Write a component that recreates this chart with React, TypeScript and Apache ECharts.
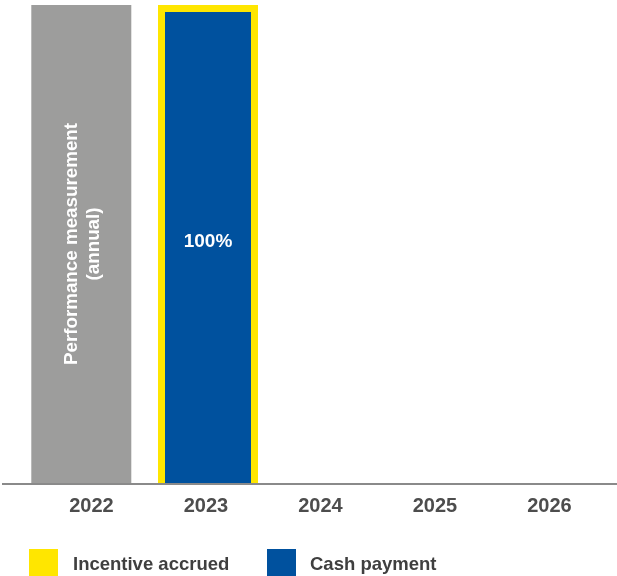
import React, { useEffect, useRef } from "react";
import * as echarts from "echarts";

const years = ["2022", "2023", "2024", "2025", "2026"];
const performanceValues = [100, "-", "-", "-", "-"];
const incentiveValues = ["-", 100, "-", "-", "-"];
const cashValues = ["-", 100, "-", "-", "-"];
const performanceLabel = "Performance measurement\n(annual)";
const cashLabel = "100%";
const legendNames = ["Incentive accrued", "Cash payment"];

export default function App() {
  const ref = useRef<HTMLDivElement>(null);
  useEffect(() => {
    const chart = echarts.init(ref.current!, null, { renderer: "svg" });
    const font = "'Liberation Sans', Arial, sans-serif";
    const gray = "#9d9d9c";
    const yellow = "#ffe600";
    const blue = "#00519e";
    const legendText = {
      fontSize: 18.5,
      fontWeight: "bold",
      color: "#3f3f3f",
      fontFamily: font,
    };
    chart.setOption({
      animation: false,
      textStyle: { fontFamily: font },
      grid: [
        { left: 17.95, width: 633.5, top: 5, bottom: 93, outerBoundsMode: "none", containLabel: false },
        { left: 34.15, right: 10.35, top: 5, bottom: 93, outerBoundsMode: "none", containLabel: false },
        { left: 17.95, width: 633.5, top: 12, bottom: 93, outerBoundsMode: "none", containLabel: false },
      ],
      xAxis: [
        { type: "category", data: years, gridIndex: 0, show: false },
        {
          type: "category",
          data: years,
          gridIndex: 1,
          axisLine: { show: false },
          axisTick: { show: false },
          splitLine: { show: false },
          axisLabel: {
            margin: 12,
            fontSize: 20,
            fontWeight: "bold",
            color: "#4d4d4d",
            fontFamily: font,
          },
        },
        { type: "category", data: years, gridIndex: 2, show: false },
      ],
      yAxis: [
        { type: "value", min: 0, max: 100, gridIndex: 0, show: false },
        { type: "value", min: 0, max: 100, gridIndex: 1, show: false },
        { type: "value", min: 0, max: 100, gridIndex: 2, show: false },
      ],
      legend: [
        {
          left: 29,
          top: 549,
          padding: 0,
          itemWidth: 29,
          itemHeight: 28,
          icon: "rect",
          data: [legendNames[0]],
          textStyle: { ...legendText, padding: [0, 0, 0, 10] },
        },
        {
          left: 267,
          top: 549,
          padding: 0,
          itemWidth: 29,
          itemHeight: 28,
          icon: "rect",
          data: [legendNames[1]],
          textStyle: { ...legendText, padding: [0, 0, 0, 9] },
        },
      ],
      series: [
        {
          name: "Performance measurement",
          type: "bar",
          xAxisIndex: 0,
          yAxisIndex: 0,
          data: performanceValues,
          barWidth: 100,
          barGap: "-100%",
          itemStyle: { color: gray },
          label: {
            show: true,
            position: "inside",
            rotate: 90,
            formatter: performanceLabel,
            color: "#ffffff",
            fontSize: 18.8,
            fontWeight: "bold",
            lineHeight: 21.5,
            align: "center",
            verticalAlign: "middle",
            fontFamily: font,
          },
        },
        {
          name: legendNames[0],
          type: "bar",
          xAxisIndex: 0,
          yAxisIndex: 0,
          data: incentiveValues,
          barWidth: 100,
          barGap: "-100%",
          itemStyle: { color: yellow },
        },
        {
          name: legendNames[1],
          type: "bar",
          xAxisIndex: 2,
          yAxisIndex: 2,
          data: cashValues,
          barWidth: 86,
          itemStyle: { color: blue },
          z: 3,
          label: {
            show: true,
            position: ["50%", 228],
            formatter: cashLabel,
            color: "#ffffff",
            fontSize: 19,
            fontWeight: "bold",
            align: "center",
            verticalAlign: "middle",
            fontFamily: font,
          },
        },
      ],
      graphic: [
        {
          type: "line",
          shape: { x1: 2, y1: 484, x2: 617, y2: 484 },
          style: { stroke: "#8a8a8a", lineWidth: 2 },
          z: 101,
        },
      ],
    });
    return () => chart.dispose();
  }, []);
  return (
    <div
      ref={ref}
      style={{ position: "fixed", left: 0, top: 0, width: 617, height: 576 }}
    />
  );
}
